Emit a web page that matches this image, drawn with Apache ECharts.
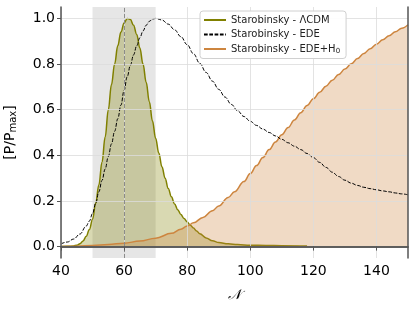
<!DOCTYPE html>
<html>
<head>
<meta charset="utf-8">
<script src="https://cdn.jsdelivr.net/npm/echarts@6/dist/echarts.min.js"></script>
<style>html,body{margin:0;padding:0;background:#fff}#c{width:415px;height:310px}</style>
</head>
<body>
<div id="c"></div>
<script>
// ---- data ----
const lcdmX = [40,42,44,45,46,47,48,49,50,51,52,53,54,55,56,57,58,59,60,61,62,63,64,65,66,67,68,69,70,71,72,73,74,75,76,77,78,79,80,81,82,83,84,86,88,90,93,96,100,105,110,118];
const lcdmY = [0.0,0.001,0.003,0.006,0.012,0.025,0.045,0.075,0.12,0.19,0.27,0.37,0.48,0.6,0.71,0.8,0.88,0.94,0.98,1.0,0.995,0.97,0.93,0.87,0.8,0.72,0.635,0.55,0.475,0.41,0.35,0.3,0.255,0.218,0.187,0.162,0.141,0.123,0.108,0.094,0.081,0.068,0.056,0.038,0.026,0.018,0.012,0.009,0.006,0.005,0.004,0.003];

const edeX = [40,42,44,46,48,49,50,51,52,53,54,55,56,57,58,59,60,61,62,63,64,65,66,67,68,69,70,72,74,76,78,80,82,84,86,88,90,92,94,96,98,100,102,104,106,108,110,112,114,116,118,120,122,124,126,128,130,132,134,136,138,140,142,144,146,148,150];
const edeY = [0.012,0.02,0.033,0.055,0.09,0.112,0.145,0.19,0.24,0.29,0.34,0.395,0.45,0.505,0.56,0.62,0.685,0.745,0.795,0.84,0.88,0.915,0.945,0.97,0.987,0.997,1.0,0.993,0.975,0.95,0.92,0.885,0.845,0.803,0.763,0.725,0.689,0.655,0.623,0.595,0.57,0.549,0.531,0.515,0.5,0.485,0.47,0.455,0.44,0.425,0.408,0.39,0.369,0.347,0.326,0.307,0.291,0.278,0.268,0.26,0.254,0.249,0.244,0.24,0.235,0.231,0.227];

const edeH0X = [40,45,50,55,60,65,70,75,78,80,82,85,88,90,93,95,98,100,102,104,106,108,110,112,114,116,118,120,122,124,126,128,130,132,134,136,138,140,142,144,146,148,150];
const edeH0Y = [0.0,0.002,0.005,0.009,0.015,0.024,0.037,0.058,0.076,0.09,0.104,0.128,0.157,0.178,0.215,0.24,0.285,0.32,0.355,0.39,0.425,0.458,0.49,0.522,0.555,0.587,0.618,0.648,0.676,0.703,0.729,0.754,0.778,0.801,0.824,0.846,0.867,0.887,0.906,0.924,0.941,0.957,0.972];

const seriesNames = ['Starobinsky - \u039BCDM', 'Starobinsky - EDE', 'Starobinsky - EDE+H0'];
const xTicks = [40, 60, 80, 100, 120, 140];
const yTicks = [0.0, 0.2, 0.4, 0.6, 0.8, 1.0];
const xRange = [40, 150];
const yRange = [-0.05, 1.05];
const band = [50, 70];
const refLine = 60;

// ---- chart ----
const FONT = 'DejaVu Sans';
const zip = (xs, ys) => xs.map((x, i) => [x, ys[i]]);
const frame = '#555';

const chart = echarts.init(document.getElementById('c'), null, {renderer: 'canvas'});
chart.setOption({
  animation: false,
  backgroundColor: '#fff',
  grid: {left: 61, right: 7, top: 7, bottom: 52, containLabel: false, outerBoundsMode: 'none'},
  legend: {
    data: seriesNames,
    orient: 'vertical',
    left: 200, top: 11, z: 10,
    itemWidth: 22, itemHeight: 10, itemGap: 4.5,
    padding: [4, 6, 4, 3],
    backgroundColor: 'rgba(255,255,255,0.9)',
    borderColor: '#d0d0d0', borderWidth: 1, borderRadius: 3,
    itemStyle: {opacity: 0},
    textStyle: {fontFamily: FONT, fontSize: 10, color: '#222',
      rich: {s: {fontFamily: FONT, fontSize: 7, verticalAlign: 'bottom', padding: [4, 0, 0, 0]}}},
    formatter: n => n.endsWith('H0') ? n.slice(0, -1) + '{s|0}' : n
  },
  xAxis: [{
    type: 'value', min: xRange[0], max: xRange[1], position: 'bottom', z: 5,
    name: '\uD835\uDCA9', nameLocation: 'middle', nameGap: 30,
    nameTextStyle: {fontFamily: 'DejaVu Serif', fontSize: 14, fontStyle: 'italic', color: '#000'},
    axisLine: {show: true, lineStyle: {color: frame, width: 1.5}},
    axisTick: {show: true, customValues: xTicks, length: 4, lineStyle: {color: frame, width: 1}},
    axisLabel: {customValues: xTicks, fontFamily: FONT, fontSize: 14, color: '#000', margin: 6},
    splitLine: {show: false}
  }, {
    type: 'value', min: xRange[0], max: xRange[1], position: 'top', z: 5,
    axisLine: {show: true, lineStyle: {color: frame, width: 1.5}},
    axisTick: {show: false}, axisLabel: {show: false}, splitLine: {show: false}
  }],
  yAxis: [{
    type: 'value', min: yRange[0], max: yRange[1], position: 'left', z: 5,
    name: '[P/P{sub|max}]', nameLocation: 'middle', nameGap: 43, nameRotate: 90,
    nameTextStyle: {fontFamily: FONT, fontSize: 14, color: '#000',
      rich: {sub: {fontFamily: FONT, fontSize: 10, verticalAlign: 'bottom', padding: [6, 0, 0, 0]}}},
    axisLine: {show: true, lineStyle: {color: frame, width: 1.5}},
    axisTick: {show: true, customValues: yTicks, length: 4, lineStyle: {color: frame, width: 1}},
    axisLabel: {customValues: yTicks, fontFamily: FONT, fontSize: 14, color: '#000', margin: 6,
      formatter: v => v.toFixed(1)},
    splitLine: {show: false}
  }, {
    type: 'value', min: yRange[0], max: yRange[1], position: 'right', z: 5,
    axisLine: {show: true, lineStyle: {color: frame, width: 1.5}},
    axisTick: {show: false}, axisLabel: {show: false}, splitLine: {show: false}
  }],
  series: [
    {
      name: 'decor', type: 'line', data: [], z: 0, silent: true,
      markArea: {silent: true, itemStyle: {color: 'rgba(128,128,128,0.2)'},
        data: [[{xAxis: band[0]}, {xAxis: band[1]}]]},
      markLine: {silent: true, symbol: 'none', label: {show: false},
        lineStyle: {color: '#dcdcdc', width: 0.8, type: 'solid'},
        data: xTicks.map(v => ({xAxis: v})).concat(yTicks.map(v => ({yAxis: v})))}
    },
    {
      name: seriesNames[0], type: 'line', data: zip(lcdmX, lcdmY), z: 2,
      smooth: 0.4, smoothMonotone: 'x', showSymbol: false, symbol: 'none',
      lineStyle: {color: '#808000', width: 1.5}, itemStyle: {color: '#808000'},
      areaStyle: {color: 'rgba(128,128,0,0.3)', opacity: 1}
    },
    {
      name: seriesNames[1], type: 'line', data: zip(edeX, edeY), z: 4,
      smooth: 0.4, smoothMonotone: 'x', showSymbol: false, symbol: 'none',
      lineStyle: {color: '#000', width: 1, type: [3.7, 1.6]}, itemStyle: {color: '#000'}
    },
    {
      name: seriesNames[2], type: 'line', data: zip(edeH0X, edeH0Y), z: 3,
      smooth: 0.4, smoothMonotone: 'x', showSymbol: false, symbol: 'none',
      lineStyle: {color: '#cd853f', width: 1.5}, itemStyle: {color: '#cd853f'},
      areaStyle: {color: 'rgba(205,133,63,0.3)', opacity: 1},
      markLine: {silent: true, symbol: 'none', label: {show: false},
        lineStyle: {color: '#777', width: 0.8, type: [4, 2]},
        data: [{xAxis: refLine}]}
    }
  ]
});
</script>
</body>
</html>
